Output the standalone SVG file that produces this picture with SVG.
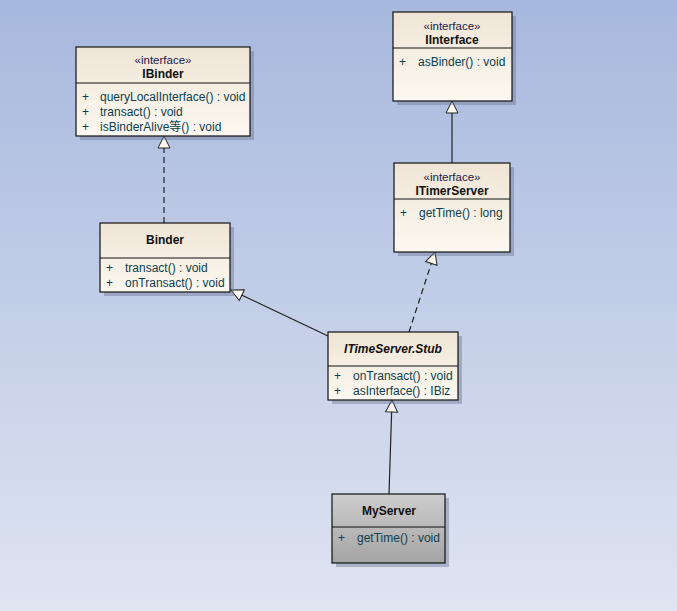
<svg xmlns="http://www.w3.org/2000/svg" width="677" height="611" viewBox="0 0 677 611">
<defs>
<linearGradient id="bg" x1="0" y1="0" x2="0" y2="1">
<stop offset="0" stop-color="#a7b8de"/>
<stop offset="1" stop-color="#dfe4f1"/>
</linearGradient>
<linearGradient id="cream" x1="0" y1="0" x2="0" y2="1">
<stop offset="0" stop-color="#efe5d5"/>
<stop offset="1" stop-color="#fcf8f1"/>
</linearGradient>
<linearGradient id="gray" x1="0" y1="0" x2="0" y2="1">
<stop offset="0" stop-color="#cdcdcd"/>
<stop offset="1" stop-color="#a4a4a4"/>
</linearGradient>
<marker id="tri" markerWidth="14" markerHeight="14" refX="13" refY="7" orient="auto" markerUnits="userSpaceOnUse">
<path d="M1,1 L13,7 L1,13 Z" fill="#fdf8ef" stroke="#222" stroke-width="1"/>
</marker>
</defs>
<style>
.box{fill:url(#cream);stroke:#111;stroke-width:1.2}
.gbox{fill:url(#gray);stroke:#111;stroke-width:1.2}
.sh{fill:#6d7a94;opacity:0.45}
.div{stroke:#111;stroke-width:1}
.st{font-family:"Liberation Sans",Arial,sans-serif;font-size:11.5px;fill:#1a1a4a;text-anchor:middle}
.nm{font-family:"Liberation Sans",Arial,sans-serif;font-size:12px;font-weight:bold;fill:#111;text-anchor:middle}
.it{font-style:italic}
.mb{font-family:"Liberation Sans","Noto Sans CJK SC",Arial,sans-serif;font-size:12px;fill:#0c3f50}
.ln{stroke:#222;stroke-width:1.2;fill:none}
.dash{stroke-dasharray:6,4}
</style>
<rect width="677" height="611" fill="url(#bg)"/>
<g id="connectors">
<line class="ln dash" x1="164" y1="223" x2="164" y2="136" marker-end="url(#tri)"/>
<line class="ln" x1="452" y1="163" x2="452" y2="101" marker-end="url(#tri)"/>
<line class="ln dash" x1="409" y1="332" x2="435" y2="252" marker-end="url(#tri)"/>
<line class="ln" x1="328" y1="336" x2="231" y2="290" marker-end="url(#tri)"/>
<line class="ln" x1="389" y1="494" x2="392" y2="400" marker-end="url(#tri)"/>
</g>
<g id="IBinder">
<rect class="sh" x="80" y="51" width="174" height="89"/>
<rect class="box" x="76" y="47" width="174" height="89"/>
<line class="div" x1="76" y1="83" x2="250" y2="83"/>
<text class="st" x="163" y="64">«interface»</text>
<text class="nm" x="163" y="78">IBinder</text>
<text class="mb" x="82" y="101">+</text><text class="mb" x="100" y="101">queryLocalInterface() : void</text>
<text class="mb" x="82" y="116">+</text><text class="mb" x="100" y="116">transact() : void</text>
<text class="mb" x="82" y="131">+</text><text class="mb" x="100" y="131">isBinderAlive等() : void</text>
</g>
<g id="IInterface">
<rect class="sh" x="397" y="16" width="119" height="89"/>
<rect class="box" x="393" y="12" width="119" height="89"/>
<line class="div" x1="393" y1="48" x2="512" y2="48"/>
<text class="st" x="452" y="30">«interface»</text>
<text class="nm" x="452" y="44">IInterface</text>
<text class="mb" x="399" y="66">+</text><text class="mb" x="418" y="66">asBinder() : void</text>
</g>
<g id="ITimerServer">
<rect class="sh" x="398" y="167" width="116" height="89"/>
<rect class="box" x="394" y="163" width="116" height="89"/>
<line class="div" x1="394" y1="199" x2="510" y2="199"/>
<text class="st" x="452" y="181">«interface»</text>
<text class="nm" x="452" y="195">ITimerServer</text>
<text class="mb" x="400" y="217">+</text><text class="mb" x="419" y="217">getTime() : long</text>
</g>
<g id="Binder">
<rect class="sh" x="104" y="227" width="130" height="69"/>
<rect class="box" x="100" y="223" width="130" height="69"/>
<line class="div" x1="100" y1="258" x2="230" y2="258"/>
<text class="nm" x="165" y="244">Binder</text>
<text class="mb" x="106" y="272">+</text><text class="mb" x="125" y="272">transact() : void</text>
<text class="mb" x="106" y="287">+</text><text class="mb" x="125" y="287">onTransact() : void</text>
</g>
<g id="ITimeServer.Stub">
<rect class="sh" x="332" y="336" width="130" height="68"/>
<rect class="box" x="328" y="332" width="130" height="68"/>
<line class="div" x1="328" y1="366" x2="458" y2="366"/>
<text class="nm it" x="393" y="353">ITimeServer.Stub</text>
<text class="mb" x="334" y="380">+</text><text class="mb" x="353" y="380">onTransact() : void</text>
<text class="mb" x="334" y="395">+</text><text class="mb" x="353" y="395">asInterface() : IBiz</text>
</g>
<g id="MyServer">
<rect class="sh" x="336" y="498" width="113" height="69"/>
<rect class="gbox" x="332" y="494" width="113" height="69"/>
<line class="div" x1="332" y1="527" x2="445" y2="527"/>
<text class="nm" x="389" y="515">MyServer</text>
<text class="mb" x="338" y="542">+</text><text class="mb" x="357" y="542">getTime() : void</text>
</g>
</svg>
